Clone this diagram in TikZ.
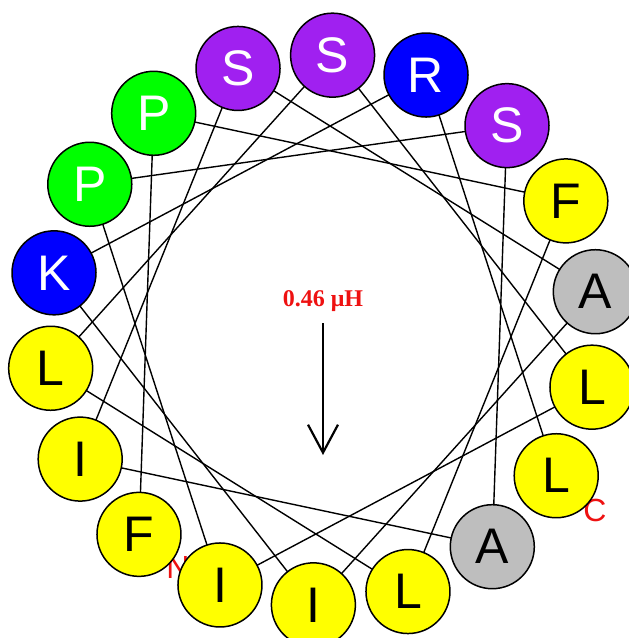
\documentclass[tikz,border=0pt]{standalone}
\usepackage{fontspec}
\setmainfont{Liberation Sans}
\newfontfamily\serifb{Liberation Serif}
\usetikzlibrary{arrows.meta}
\definecolor{yel}{HTML}{FFFF00}
\definecolor{gry}{HTML}{BEBEBE}
\definecolor{grn}{HTML}{00FF00}
\definecolor{blu}{HTML}{0000FF}
\definecolor{pur}{HTML}{A020F0}
\definecolor{lab}{HTML}{EE1111}
\tikzset{
  res/.style={circle,draw=black,line width=1.5pt,minimum size=84pt,inner sep=0pt,
    font=\fontsize{50}{50}\selectfont},
  dark/.style={res,text=white},
  light/.style={res,text=black},
  link/.style={line width=1.4pt,black},
  term/.style={text=lab,font=\fontsize{32}{32}\selectfont},
}
\begin{document}
\begin{tikzpicture}[x=1pt,y=1pt]
\useasboundingbox (-323,-308) rectangle (306,330);
% positions
\foreach \k/\a in {0/-132,1/128,2/28,3/-72,4/-172,5/88,6/-12,7/-112,8/148,9/48,10/-52,11/-152,12/108,13/8,14/-92,15/168,16/68,17/-32}
  \coordinate (c\k) at (\a:275);
% helix connectors
\foreach \i [evaluate=\i as \j using int(\i+1)] in {0,...,16}
  \draw[link] (c\i) -- (c\j);
% terminal labels
\node[term] (nterm) at (-145,-237) {N};
\node[term] (cterm) at (272,-180) {C};
% residues
\node[light,fill=yel] (r0) at (c0) {F};
\node[dark,fill=grn] (r1) at (c1) {P};
\node[light,fill=yel] (r2) at (c2) {F};
\node[light,fill=yel] (r3) at (c3) {L};
\node[light,fill=yel] (r4) at (c4) {L};
\node[dark,fill=pur] (r5) at (c5) {S};
\node[light,fill=yel] (r6) at (c6) {L};
\node[light,fill=yel] (r7) at (c7) {I};
\node[dark,fill=grn] (r8) at (c8) {P};
\node[dark,fill=pur] (r9) at (c9) {S};
\node[light,fill=gry] (r10) at (c10) {A};
\node[light,fill=yel] (r11) at (c11) {I};
\node[dark,fill=pur] (r12) at (c12) {S};
\node[light,fill=gry] (r13) at (c13) {A};
\node[light,fill=yel] (r14) at (c14) {I};
\node[dark,fill=blu] (r15) at (c15) {K};
\node[dark,fill=blu] (r16) at (c16) {R};
\node[light,fill=yel] (r17) at (c17) {L};
% hydrophobic moment
\node[text=lab,font=\serifb\bfseries\fontsize{24}{24}\selectfont] (mu) at (0,29) {0.46 μH};
\coordinate (mtop) at (0,7);
\coordinate (mtip) at (0,-125);
\draw[line width=2.2pt,-{Straight Barb[length=28pt,width=30pt,line width=2.2pt]}] (mtop) -- (mtip);
\end{tikzpicture}
\end{document}
